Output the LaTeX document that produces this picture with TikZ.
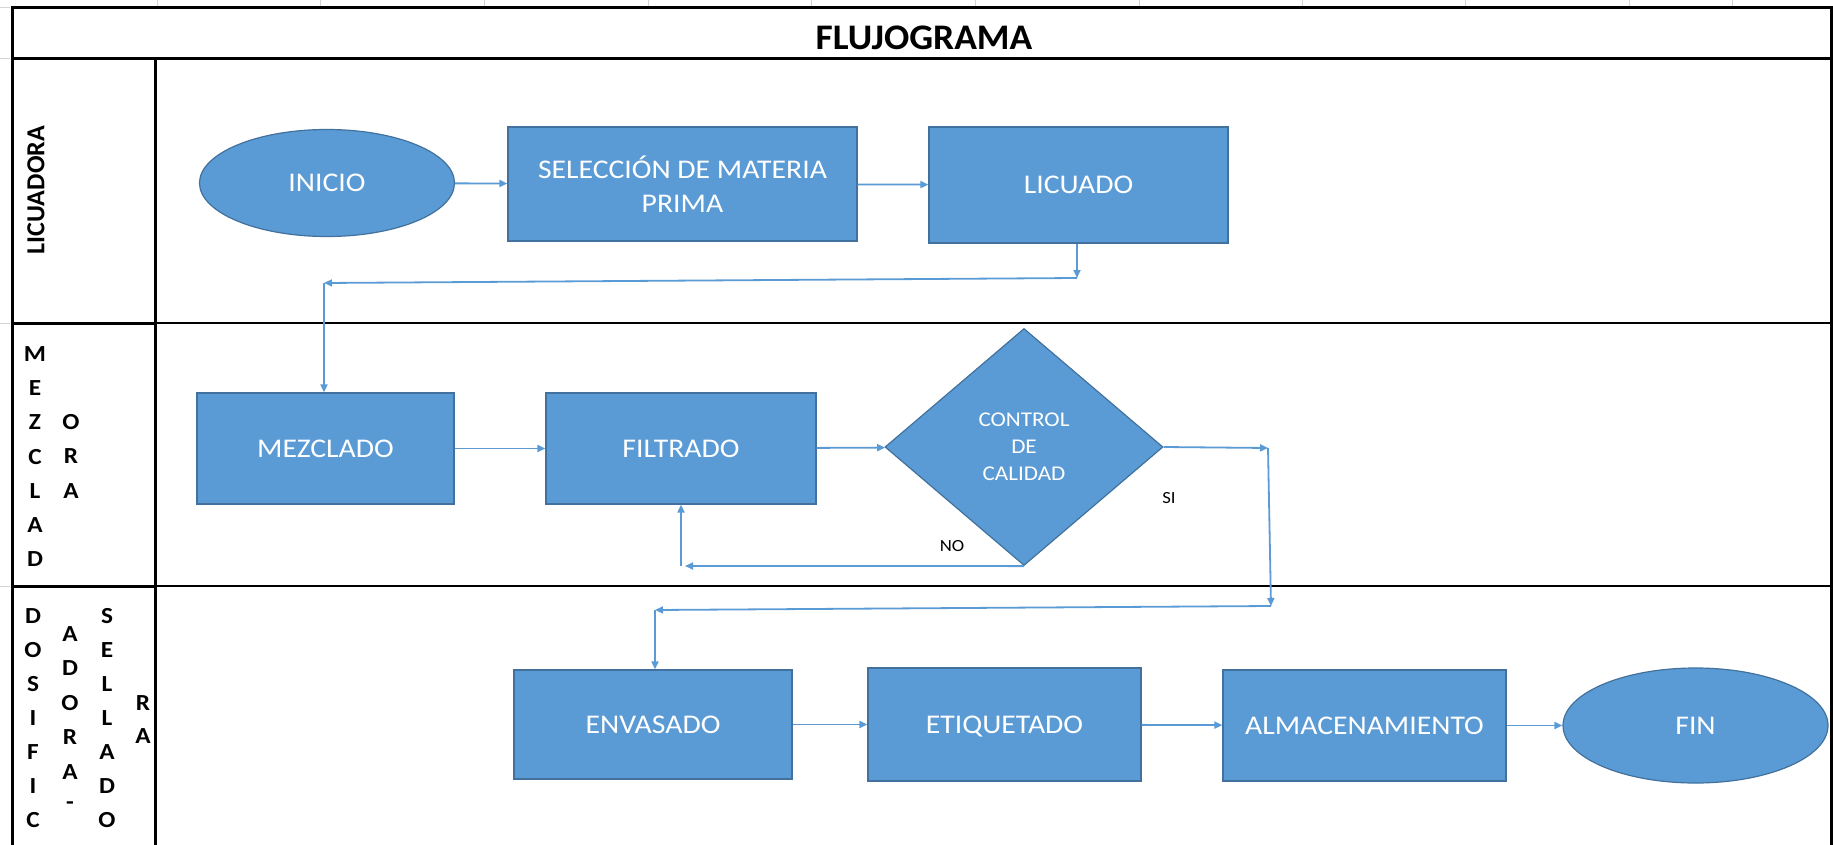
\documentclass[tikz,border=0pt]{standalone}
\usepackage{fontspec}
\setmainfont{Carlito}[FakeStretch=1.1]
\newfontfamily\titlefont{Carlito}[FakeStretch=1.04]
\newfontfamily\rotfont{Carlito}
\usetikzlibrary{shapes.geometric, arrows.meta}
\definecolor{boxblue}{HTML}{5B9BD5}
\definecolor{boxedge}{HTML}{41719C}
\definecolor{flowline}{HTML}{5B9BD5}
\definecolor{gridgray}{HTML}{D4D4D4}

\begin{document}
\begin{tikzpicture}[x=1pt,y=-1pt,
   proc/.style={rectangle,draw=boxedge,line width=1.2pt,fill=boxblue,text=white,inner sep=0pt,align=center,font=\fontsize{27}{34}\selectfont},
   term/.style={ellipse,draw=boxedge,line width=1.2pt,fill=boxblue,text=white,inner sep=0pt,font=\fontsize{27}{34}\selectfont},
   decision/.style={diamond,draw=boxedge,line width=1.2pt,fill=boxblue,text=white,inner sep=0pt,align=center,font=\fontsize{21}{27}\selectfont},
   flow/.style={draw=flowline,line width=1.8pt,-{Triangle[length=8pt,width=7pt]}},
   lanechar/.style={inner sep=0pt,text=black,font=\bfseries\fontsize{23}{23}\selectfont},
   answer/.style={inner sep=0pt,text=black,font=\fontsize{17}{17}\selectfont},
   frame/.style={line width=3pt}]
   \useasboundingbox (0,0) rectangle (1833,845);
   \foreach \gx in {157,320,484,648,811,975,1139,1302,1465,1629,1732}
      \draw[gridgray,line width=1pt] (\gx,0) -- (\gx,6);
   \foreach \gy in {8,59,323,586}
      \draw[gridgray,line width=1pt] (0,\gy) -- (10,\gy);
   \draw[frame] (12,845) -- (12,8) -- (1831,8) -- (1831,845);
   \draw[frame] (12,59) -- (1831,59);
   \draw[frame] (155,59) -- (155,845);
   \draw[line width=2pt] (12,323) -- (1831,323) (12,586) -- (1831,586);
   \draw[frame] (12,323) -- (155,323) (12,586) -- (155,586);
   \node[inner sep=0pt,font=\titlefont\bfseries\fontsize{36}{36}\selectfont] (title) at (924,38) {FLUJOGRAMA};
   \node[inner sep=0pt,rotate=90,font=\rotfont\bfseries\fontsize{26}{26}\selectfont] (lane1) at (36,190) {LICUADORA};
   \foreach \l [count=\i] in {M,E,Z,C,L,A,D}
      \node[lanechar] (mz\i) at (35,{354+34.2*(\i-1)}) {\l};
   \foreach \l [count=\i] in {O,R,A}
      \node[lanechar] (mo\i) at (71,{422+34.5*(\i-1)}) {\l};
   \foreach \l [count=\i] in {D,O,S,I,F,I,C}
      \node[lanechar] (da\i) at (33,{616+34*(\i-1)}) {\l};
   \foreach \l [count=\i] in {A,D,O,R,A,-}
      \node[lanechar] (db\i) at (70,{634+34.4*(\i-1)}) {\l};
   \foreach \l [count=\i] in {S,E,L,L,A,D,O}
      \node[lanechar] (dc\i) at (107,{616+34*(\i-1)}) {\l};
   \foreach \l [count=\i] in {R,A}
      \node[lanechar] (dd\i) at (143,{703+33*(\i-1)}) {\l};
   \node[term,minimum width=255pt,minimum height=107pt] (inicio) at (327,183) {INICIO};
   \node[proc,minimum width=349pt,minimum height=114pt] (seleccion) at (682.5,184) {SELECCI\'ON DE MATERIA\\PRIMA};
   \node[proc,minimum width=299pt,minimum height=116pt] (licuado) at (1078.5,185) {LICUADO};
   \node[proc,minimum width=257pt,minimum height=111pt] (mezclado) at (325.5,448.5) {MEZCLADO};
   \node[proc,minimum width=270pt,minimum height=111pt] (filtrado) at (681,448.5) {FILTRADO};
   \node[decision,minimum width=278pt,minimum height=237pt] (control) at (1024,447) {CONTROL\\DE\\CALIDAD};
   \node[proc,minimum width=278pt,minimum height=109pt] (envasado) at (653,724.5) {ENVASADO};
   \node[proc,minimum width=273pt,minimum height=113pt,text depth=0pt] (etiquetado) at (1004.5,724.5) {ETIQUETADO};
   \node[proc,minimum width=283pt,minimum height=111pt] (almacen) at (1364.5,725.5) {ALMACENAMIENTO};
   \node[term,minimum width=265pt,minimum height=115pt] (fin) at (1695.5,725.5) {FIN};
   \node[answer] (no) at (952,546) {NO};
   \node[answer] (si) at (1169,498) {SI};
   \coordinate (lic1) at (1077,278);
   \coordinate (lic2) at (324,283);
   \coordinate (si1) at (1268,448);
   \coordinate (si2) at (1271,606);
   \coordinate (si3) at (655,610);
   \coordinate (no1) at (685,566);
   \draw[flow] (inicio) -- (seleccion);
   \draw[flow] (seleccion) -- (licuado);
   \draw[flow] (licuado.south -| lic1) -- (lic1);
   \draw[flow] (lic1) -- (lic2);
   \draw[flow] (lic2) -- (mezclado.north -| lic2);
   \draw[flow] (mezclado) -- (filtrado);
   \draw[flow] (filtrado) -- (control);
   \draw[flow] (control.east) -- (si1);
   \draw[flow] (si1) -- (si2);
   \draw[flow] (si2) -- (si3);
   \draw[flow] (si3) -- (envasado.north -| si3);
   \draw[flow] (control.south) -- (no1);
   \draw[flow] (filtrado.south |- no1) -- (filtrado.south);
   \draw[flow] (envasado) -- (etiquetado);
   \draw[flow] (etiquetado) -- (almacen);
   \draw[flow] (almacen) -- (fin);
\end{tikzpicture}
\end{document}
